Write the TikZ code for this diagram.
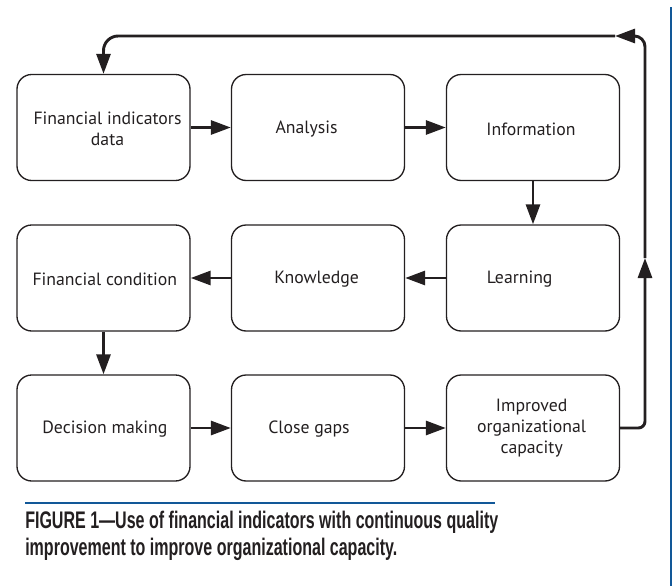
\documentclass[tikz,border=0pt]{standalone}
\usepackage{fontspec}
\setmainfont{PT Sans}
\newfontfamily\capfont[FakeStretch=0.668]{Liberation Sans}
\usetikzlibrary{arrows.meta}
\definecolor{ink}{HTML}{231F20}
\definecolor{rulecol}{RGB}{18,88,152}

\begin{document}
\begin{tikzpicture}[x=0.75pt,y=-0.75pt,
  box/.style={draw=ink, line width=1pt, rounded corners=11pt,
    minimum width=129.75pt, minimum height=79.5pt, inner sep=0pt},
  lbl/.style={font=\fontsize{13.3}{16}\selectfont, text=ink, align=center, inner sep=0pt},
  flow/.style={draw=ink, line width=2.2pt, -{Triangle[length=15pt,width=10.5pt]}},
  captext/.style={anchor=base west, inner sep=0pt, text=ink,
    font=\capfont\bfseries\fontsize{18}{22}\selectfont},
]
\useasboundingbox (0,0) rectangle (672,586);

% process boxes, three rows of three
\node[box, label={[lbl,xshift=3pt,yshift=-1pt]center:Financial indicators\\data}] (b1) at (103.5,127.5) {};
\node[box, label={[lbl,xshift=-8.6pt,yshift=-1pt]center:Analysis}] (b2) at (318,127.5) {};
\node[box, label={[lbl,xshift=-1.5pt,yshift=-1pt]center:Information}] (b3) at (533,127.5) {};

\node[box, label={[lbl,xshift=1pt,yshift=-1pt]center:Financial condition}] (b4) at (103.5,278) {};
\node[box, label={[lbl,xshift=-1pt,yshift=-1pt]center:Knowledge}] (b5) at (318,278) {};
\node[box, label={[lbl,xshift=-10pt,yshift=-1pt]center:Learning}] (b6) at (533,278) {};

\node[box, label={[lbl,xshift=1pt,yshift=-1pt]center:Decision making}] (b7) at (103.5,428) {};
\node[box, label={[lbl,xshift=-6.75pt,yshift=-1pt]center:Close gaps}] (b8) at (318,428) {};
\node[box, label={[lbl,xshift=-1pt]center:Improved\\organizational\\capacity}] (b9) at (533,428) {};

% forward flow
\draw[flow] (b1) -- (b2);
\draw[flow] (b2) -- (b3);
\draw[flow] (b3) -- (b6);
\draw[flow] (b6) -- (b5);
\draw[flow] (b5) -- (b4);
\draw[flow] (b4) -- (b7);
\draw[flow] (b7) -- (b8);
\draw[flow] (b8) -- (b9);

% feedback loop back to the start
\coordinate (rb) at (645,428);
\coordinate (up) at (645,258);
\coordinate (rt) at (645,36);
\coordinate (lt) at (615,36);
\coordinate (tl) at (103.5,36);
\draw[flow, rounded corners=5pt] (b9.east) -- (rb) -- (up);
\draw[flow, rounded corners=8pt] (up) -- (rt) -- (lt);
\draw[flow, rounded corners=11pt] (lt) -- (tl) -- (b1.north);

% caption
\draw[rulecol, line width=0.9pt] (25,503) -- (495,503);
\node[captext] (cap1) at (25,528) {FIGURE 1—Use of financial indicators with continuous quality};
\node[captext] (cap2) at (25,555) {improvement to improve organizational capacity.};

% page edge bar
\fill[rulecol] (669.5,7) rectangle (672,586);
\end{tikzpicture}
\end{document}
